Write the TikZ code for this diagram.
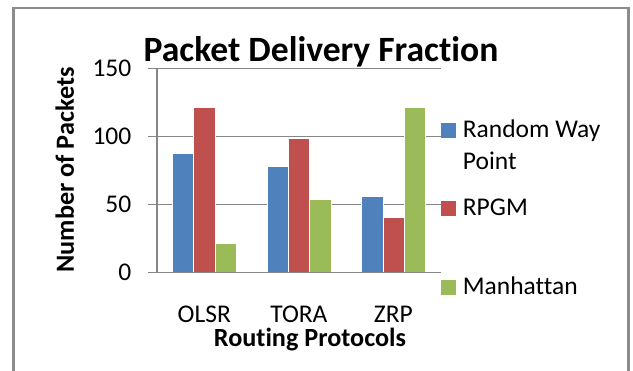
\documentclass[tikz,border=0pt]{standalone}
\usepackage{fontspec}
\setmainfont{Carlito}[Ligatures={NoCommon,NoContextual}]
\definecolor{cblue}{HTML}{4F81BD}
\definecolor{cred}{HTML}{C0504D}
\definecolor{cgreen}{HTML}{9BBB59}
\definecolor{gridgray}{HTML}{868686}
\definecolor{framegray}{HTML}{8C8C8C}
\begin{document}
\begin{tikzpicture}[x=1pt,y=-1pt,
  lbl/.style={font=\fontsize{25.5}{27}\selectfont, inner sep=0pt},
  blbl/.style={font=\fontsize{26.2}{28}\selectfont\bfseries, inner sep=0pt},
  ttl/.style={font=\fontsize{35.6}{38}\selectfont\bfseries, inner sep=0pt},
  gridline/.style={gridgray, line width=1.2pt},
  axisline/.style={gridgray, line width=1.6pt},
  framel/.style={framegray, line width=3pt},
  barbox/.style={draw=white, line width=0.4pt},
  legbox/.style={minimum size=15pt, inner sep=0pt}]
\useasboundingbox (0,0) rectangle (633,371);
\fill[white] (0,0) rectangle (633,371);
% outer frame
\draw[framegray, line width=2pt] (12,8) -- (630,8);
\draw[framel] (13.5,8) -- (13.5,380);
\draw[framel] (628.5,8) -- (628.5,380);
% gridlines
\foreach \v in {50,100,150} {
  \draw[gridline] (148,{272.7-1.36*\v}) -- (441,{272.7-1.36*\v});
}
% bars
\foreach \i/\a/\b/\c in {0/88/122/22, 1/78/99/54, 2/56/41/122} {
  \pgfmathsetmacro\cx{157+94.57*(\i+0.5)}
  \filldraw[barbox, fill=cblue] (\cx-32,272.7) rectangle (\cx-10.7,{272.7-1.36*\a});
  \filldraw[barbox, fill=cred] (\cx-10.7,272.7) rectangle (\cx+10.7,{272.7-1.36*\b});
  \filldraw[barbox, fill=cgreen] (\cx+10.7,272.7) rectangle (\cx+32,{272.7-1.36*\c});
}
% axes
\draw[axisline] (157,68.7) -- (157,272.7);
\draw[axisline] (148,272.7) -- (441,272.7);
% y tick labels
\node[lbl, anchor=base east] (y0) at (131.5,280.7) {0};
\node[lbl, anchor=base east] (y50) at (131.5,212.7) {50};
\node[lbl, anchor=base east] (y100) at (131.5,144.7) {100};
\node[lbl, anchor=base east] (y150) at (131.5,76.7) {150};
% category labels
\node[lbl, anchor=base] (olsr) at (204.3,322.3) {OLSR};
\node[lbl, anchor=base] (tora) at (298.9,322.3) {TORA};
\node[lbl, anchor=base] (zrp) at (393.4,322.3) {ZRP};
% axis titles
\node[blbl, anchor=base] (xt) at (310,346.7) {Routing Protocols};
\node[blbl, anchor=base, rotate=90] (yt) at (74,170) {Number of Packets};
% title
\node[ttl, anchor=base] (title) at (321,61.7) {Packet Delivery Fraction};
% legend
\node[legbox, fill=cblue] (lb1) at (448.5,130.2) {};
\node[lbl, anchor=base west] (lt1) at (462.7,137.7) {Random Way};
\node[lbl, anchor=base west] (lt1b) at (462.7,169.3) {Point};
\node[legbox, fill=cred] (lb2) at (448.5,208.2) {};
\node[lbl, anchor=base west] (lt2) at (462.7,215.7) {RPGM};
\node[legbox, fill=cgreen] (lb3) at (448.5,287.5) {};
\node[lbl, anchor=base west] (lt3) at (462.7,295) {Manhattan};
\end{tikzpicture}
\end{document}
